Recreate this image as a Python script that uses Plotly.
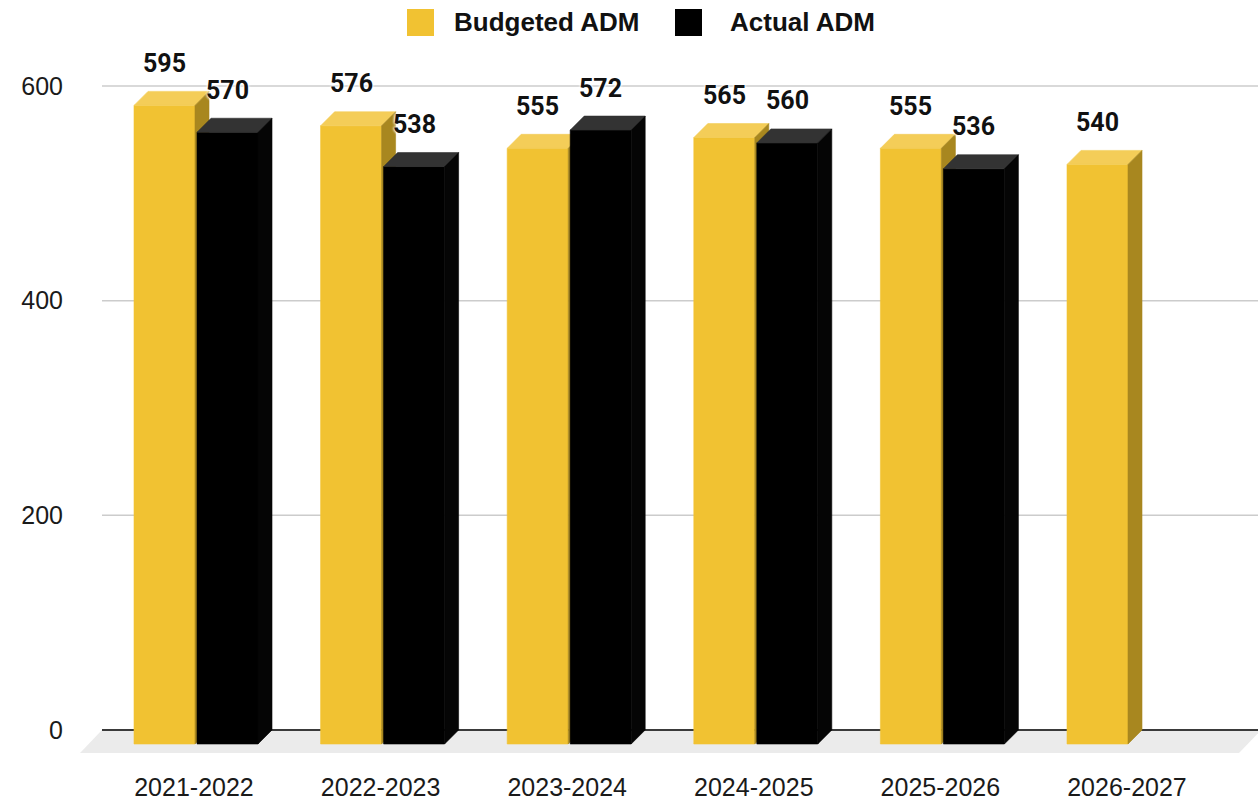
import plotly.graph_objects as go

# ---- data -------------------------------------------------------------
categories = ["2021-2022", "2022-2023", "2023-2024", "2024-2025", "2025-2026", "2026-2027"]
budgeted_adm = [595, 576, 555, 565, 555, 540]
actual_adm = [570, 538, 572, 560, 536, None]
y_tick_values = [0, 200, 400, 600]

# ---- page geometry (pixels) -------------------------------------------
W, H = 1258, 802
L, R, T, B = 70, 1258, 50, 770          # plot area
X0_PX = 194                             # x pixel of the first category
CAT_PX = 186.6                          # pixels between categories
ZERO_PX = 730                           # y pixel of value 0 (back wall)
UNIT_PX = 1.0733                        # pixels per value unit


def ux(px):
    return px / CAT_PX


def uy(px):
    return px / UNIT_PX


def paper_x(px):
    return (px - L) / (R - L)


def paper_y(py):
    return (B - py) / (B - T)


x_range = [ux(L - X0_PX), ux(R - X0_PX)]
y_range = [-uy(B - ZERO_PX), uy(ZERO_PX - T)]

# 3D extrusion of bars and floor
DX, DY = ux(14), uy(14)
FLOOR_DX, FLOOR_DY = ux(22), uy(23)
BAR_W = ux(61)
series = [
    dict(name="Budgeted ADM", values=budgeted_adm, left=ux(-60),
         front="#F1C232", top="#F4CD58", side="#A8871F"),
    dict(name="Actual ADM", values=actual_adm, left=ux(3),
         front="#000000", top="#333333", side="#050505"),
]

fig = go.Figure()


def add_faces(xs, ys, color, name):
    fig.add_trace(go.Scatter(
        x=xs, y=ys, mode="lines", fill="toself", fillcolor=color,
        line=dict(color=color, width=0.6), name=name,
        hoverinfo="skip", showlegend=False,
    ))


annotations = []
for s in series:
    fx, fy, tx, ty, sx, sy = [], [], [], [], [], []
    for i, v in enumerate(s["values"]):
        if v is None:
            continue
        x0 = i + s["left"]
        x1 = x0 + BAR_W
        # front face
        fx += [x0, x1, x1, x0, x0, None]
        fy += [-DY, -DY, v - DY, v - DY, -DY, None]
        # top face
        tx += [x0, x1, x1 + DX, x0 + DX, x0, None]
        ty += [v - DY, v - DY, v, v, v - DY, None]
        # right side face
        sx += [x1, x1 + DX, x1 + DX, x1, x1, None]
        sy += [-DY, 0, v, v - DY, -DY, None]
        annotations.append(dict(
            x=(x0 + x1) / 2, y=v, xref="x", yref="y", text=str(v),
            showarrow=False, yanchor="middle", yshift=28,
            font=dict(family="Roboto", size=25, weight="bold", color="#111111",
                      shadow="0 0 3px #ffffff, 0 0 3px #ffffff, 0 0 3px #ffffff"),
        ))
    add_faces(fx, fy, s["front"], s["name"])
    add_faces(tx, ty, s["top"], s["name"])
    add_faces(sx, sy, s["side"], s["name"])

# floor, grid lines and baseline
grid_left = ux(102 - X0_PX)
floor_right = x_range[1] + ux(3)
shapes = [dict(
    type="path", xref="x", yref="y", layer="below", line=dict(width=0),
    fillcolor="#EBEBEB",
    path=(f"M{grid_left},0 L{floor_right},0 "
          f"L{floor_right - FLOOR_DX},{-FLOOR_DY} L{grid_left - FLOOR_DX},{-FLOOR_DY} Z"),
)]
for t in y_tick_values:
    shapes.append(dict(
        type="line", xref="x", yref="y", layer="below",
        x0=grid_left, x1=x_range[1], y0=t, y1=t,
        line=dict(color="#3a3a3a" if t == 0 else "#CCCCCC", width=2 if t == 0 else 1.5),
    ))

# legend drawn as swatches and labels above the plot
legend_items = [("Budgeted ADM", "#F1C232", 407, 452), ("Actual ADM", "#000000", 675, 728)]
for name, color, sq_px, txt_px in legend_items:
    shapes.append(dict(
        type="rect", xref="paper", yref="paper", layer="above",
        x0=paper_x(sq_px), x1=paper_x(sq_px + 27), y0=paper_y(36), y1=paper_y(9),
        fillcolor=color, line=dict(width=0),
    ))
    annotations.append(dict(
        x=paper_x(txt_px), y=paper_y(22), xref="paper", yref="paper",
        text=name, showarrow=False, xanchor="left", yanchor="middle",
        font=dict(family="Liberation Sans", size=26, weight="bold", color="#111111"),
    ))

fig.update_layout(
    width=W, height=H,
    margin=dict(l=L, r=W - R, t=T, b=H - B, pad=0, autoexpand=False),
    paper_bgcolor="#ffffff", plot_bgcolor="#ffffff",
    showlegend=False,
    shapes=shapes, annotations=annotations,
    xaxis=dict(
        range=x_range, tickmode="array", tickvals=list(range(len(categories))),
        ticktext=categories, showgrid=False, zeroline=False, showline=False,
        ticks="", ticklabelstandoff=0, automargin=False,
        tickfont=dict(family="Liberation Sans", size=25, color="#1a1a1a"),
        fixedrange=True,
    ),
    yaxis=dict(
        range=y_range, tickmode="array", tickvals=y_tick_values,
        showgrid=False, zeroline=False, showline=False, ticks="",
        ticklabelstandoff=6, automargin=False,
        tickfont=dict(family="Liberation Sans", size=25, color="#1a1a1a"),
        fixedrange=True,
    ),
)

fig.write_html("out.html")
